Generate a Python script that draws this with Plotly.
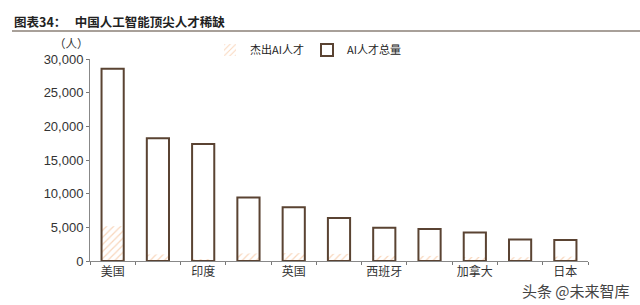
import plotly.graph_objects as go

countries = ["美国", "中国", "印度", "德国", "英国", "法国", "西班牙", "意大利", "加拿大", "澳大利亚", "日本"]
shown_labels = ["美国", "", "印度", "", "英国", "", "西班牙", "", "加拿大", "", "日本"]
total_ai = [28536, 18232, 17384, 9441, 7998, 6395, 4942, 4740, 4228, 3200, 3117]
stellar_ai = [5158, 977, 200, 1119, 1177, 1056, 772, 760, 599, 560, 651]
y_ticks = [0, 5000, 10000, 15000, 20000, 25000, 30000]

# pixel -> paper helpers (plot area: x 90..588, y 59..261)
L, R, T, B = 90, 588, 59, 261
def px(x):
    return (x - L) / (R - L)
def py(y):
    return (B - y) / (B - T)

fig = go.Figure()
fig.add_trace(go.Bar(
    x=countries, y=stellar_ai, name="杰出AI人才",
    marker=dict(color="white", line=dict(width=0),
                pattern=dict(shape="/", fgcolor="#f2b07c", bgcolor="white", size=5, solidity=0.25)),
    width=0.49,
))
fig.add_trace(go.Bar(
    x=countries, y=total_ai, name="AI人才总量",
    marker=dict(color="rgba(0,0,0,0)", line=dict(color="#5a4332", width=2)),
    width=0.49,
))

fig.update_layout(
    width=640, height=305,
    margin=dict(l=L, r=640 - R, t=T, b=305 - B),
    barmode="overlay",
    plot_bgcolor="white", paper_bgcolor="white",
    font=dict(family="Noto Sans CJK SC, Arial", color="#333", size=12),
    showlegend=True,
    legend=dict(orientation="h", x=px(210), y=py(50), xanchor="left", yanchor="middle",
                font=dict(size=11, color="#222"), itemwidth=30, bgcolor="rgba(0,0,0,0)",
                entrywidth=52, entrywidthmode="pixels",
                tracegroupgap=0, traceorder="normal"),
    xaxis=dict(
        type="category", tickmode="array", tickvals=countries, ticktext=shown_labels,
        ticks="outside", tickson="boundaries", ticklen=3, tickcolor="#777",
        showline=True, linecolor="#888", linewidth=1, showgrid=False,
        tickfont=dict(size=12, color="#333"), range=[-0.5, 10.5],
    ),
    yaxis=dict(
        range=[0, 30000], tickvals=y_ticks, tickformat=",",
        ticks="outside", ticklen=3, tickcolor="#777",
        showline=True, linecolor="#888", linewidth=1, showgrid=False, zeroline=False,
        tickfont=dict(family="Liberation Sans, Arial", size=13, color="#333"),
    ),
    shapes=[dict(type="line", xref="paper", yref="paper", x0=px(12), x1=px(640), y0=py(31), y1=py(31),
                 line=dict(color="#a8a099", width=2))],
    annotations=[
        dict(text="<b>图表34：   中国人工智能顶尖人才稀缺</b>", xref="paper", yref="paper",
             x=px(12), y=py(21), xanchor="left", yanchor="middle", showarrow=False,
             font=dict(size=12.5, color="#222", family="Noto Sans CJK SC")),
        dict(text="（人）", xref="paper", yref="paper", x=px(71), y=py(43), xanchor="center",
             yanchor="middle", showarrow=False, font=dict(size=11.5, color="#333")),
        dict(text="头条 @未来智库", xref="paper", yref="paper", x=px(632), y=py(290), xanchor="right",
             yanchor="middle", showarrow=False, font=dict(size=15, color="#444")),
    ],
)

fig.write_html("out.html")
